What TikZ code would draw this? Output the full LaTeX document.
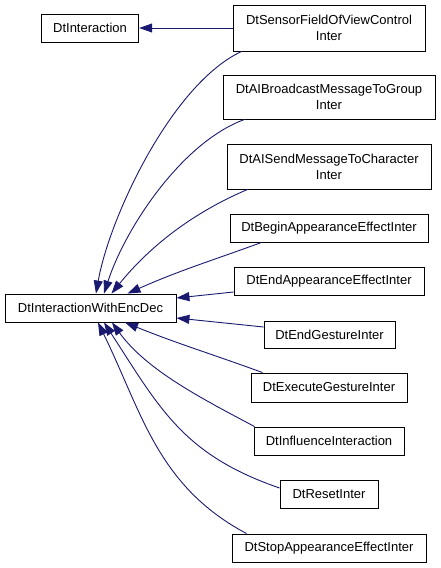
\documentclass[tikz,border=0pt]{standalone}
\usepackage{fontspec}
\setmainfont{Liberation Sans}
\usepackage{tikz}
\usetikzlibrary{arrows.meta}
\definecolor{myedgecolor}{HTML}{191970}

\tikzset{
  classbox/.style={draw=black, line width=0.9pt, fill=white, rectangle, inner sep=0pt, align=center,
    font=\fontsize{13pt}{16pt}\selectfont},
  inherit/.style={draw=myedgecolor, line width=0.9pt, -{Triangle[length=13pt,width=9pt]}}
}

\begin{document}
\begin{tikzpicture}[x=1pt, y=1pt]%
\useasboundingbox (0,0) rectangle (440,-568);%
\node[classbox, minimum width=97.5pt, minimum height=28pt] (interaction) at (90,-28) {DtInteraction};%
\node[classbox, minimum width=171pt, minimum height=28pt] (encdec) at (90.5,-308) {DtInteractionWithEncDec};%
\node[classbox, minimum width=192pt, minimum height=46pt] (sensor) at (329,-28) {DtSensorFieldOfViewControl\\Inter};%
\node[classbox, minimum width=212pt, minimum height=44pt] (aibroad) at (329,-97) {DtAIBroadcastMessageToGroup\\Inter};%
\node[classbox, minimum width=204pt, minimum height=45pt] (aisend) at (329,-166.5) {DtAISendMessageToCharacter\\Inter};%
\node[classbox, minimum width=198pt, minimum height=28pt] (beginapp) at (329,-228) {DtBeginAppearanceEffectInter};%
\node[classbox, minimum width=190pt, minimum height=28pt] (endapp) at (329,-281) {DtEndAppearanceEffectInter};%
\node[classbox, minimum width=131pt, minimum height=27pt] (endgest) at (329.5,-334.5) {DtEndGestureInter};%
\node[classbox, minimum width=156pt, minimum height=29pt] (execgest) at (329,-387.5) {DtExecuteGestureInter};%
\node[classbox, minimum width=150pt, minimum height=28pt] (influence) at (329,-441) {DtInfluenceInteraction};%
\node[classbox, minimum width=98pt, minimum height=28pt] (reset) at (329,-494) {DtResetInter};%
\node[classbox, minimum width=194pt, minimum height=28pt] (stopapp) at (329,-548) {DtStopAppearanceEffectInter};%
% inheritance edges
\draw[inherit] (sensor.west) -- (interaction.east);%
\draw[inherit] ([xshift=9pt]sensor.south west) to[out=205, in=80, looseness=0.7] ([xshift=5.5pt]encdec.north);%
\draw[inherit] ([xshift=22pt]aibroad.south west) to[out=200, in=72, looseness=0.77] ([xshift=13.5pt]encdec.north);%
\draw[inherit] ([xshift=21pt]aisend.south west) to[out=203, in=51, looseness=0.9] ([xshift=21pt]encdec.north);%
\draw[inherit] ([xshift=32pt]beginapp.south west) to[out=200, in=24] ([xshift=37pt]encdec.north);%
\draw[inherit] ([yshift=-11pt]endapp.west) -- ([yshift=10pt]encdec.east);%
\draw[inherit] ([yshift=7.5pt]endgest.west) -- ([yshift=-10pt]encdec.east);%
\draw[inherit] ([xshift=12pt]execgest.north west) to[out=160, in=-22] ([xshift=34.5pt]encdec.south);%
\draw[inherit] ([xshift=1pt]influence.north west) to[out=152, in=-54, looseness=0.86] ([xshift=21.5pt]encdec.south);%
\draw[inherit] ([yshift=6pt]reset.west) to[out=161, in=-57, looseness=1.08] ([xshift=13.5pt]encdec.south);%
\draw[inherit] ([xshift=15pt]stopapp.north west) to[out=152, in=-64] ([xshift=7.5pt]encdec.south);%
\end{tikzpicture}
\end{document}
